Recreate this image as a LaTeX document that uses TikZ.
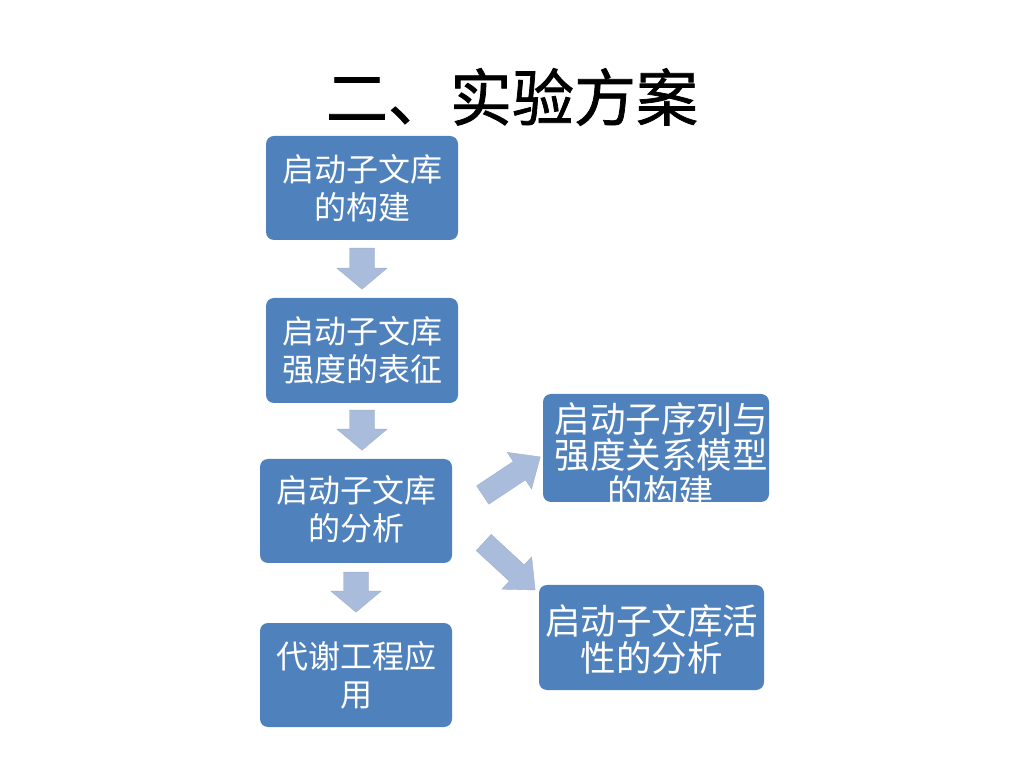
\documentclass[tikz,border=0pt]{standalone}
\usepackage{fontspec}
\setmainfont{Noto Sans CJK SC}
\newfontfamily\cjk{Noto Sans CJK SC}
\newfontfamily\titlecjk[FakeBold=1.2]{Noto Sans CJK SC}
\usetikzlibrary{calc}
\definecolor{boxblue}{HTML}{4F81BD}
\definecolor{arrblue}{HTML}{A9BCDB}
\tikzset{
  flowbox/.style={fill=boxblue, rounded corners=8pt, inner sep=0pt},
  boxtext/.style={text=white, align=center, inner sep=0pt, font=\cjk\fontsize{32pt}{38pt}\selectfont},
  widetext/.style={text=white, align=center, inner sep=0pt, font=\cjk\fontsize{35.5pt}{36.5pt}\selectfont},
  arrfill/.style={fill=arrblue, draw=arrblue!80!gray, line width=0.4pt},
}
% tail coordinate, angle, length, shaft half width, head half width, head length
\newcommand\blockarr[6]{%
  \path[arrfill, shift={(#1)}, rotate=#2]
    (0,-#4) -- ({#3-#6},-#4) -- ({#3-#6},-#5) -- (#3,0) -- ({#3-#6},#5) -- ({#3-#6},#4) -- (0,#4) -- cycle;}
\begin{document}
\begin{tikzpicture}[x=1pt,y=1pt]
\useasboundingbox (0,0) rectangle (1024,768);
\fill[white] (0,0) rectangle (1024,768);

\node[font=\titlecjk\fontsize{62pt}{62pt}\selectfont, inner sep=0pt] (title) at (512,671) {二、实验方案};

\node[flowbox, minimum width=192pt, minimum height=104pt] (b1) at (362,580) {};
\node[boxtext] (t1) at (b1.center) {启动子文库\\的构建};

\node[flowbox, minimum width=192pt, minimum height=105pt] (b2) at (362,417.5) {};
\node[boxtext] (t2) at (b2.center) {启动子文库\\强度的表征};

\node[flowbox, minimum width=192pt, minimum height=104pt] (b3) at (356,257) {};
\node[boxtext] (t3) at ([yshift=2pt]b3.center) {启动子文库\\的分析};

\node[flowbox, minimum width=192pt, minimum height=104pt] (b4) at (356,93) {};
\node[boxtext] (t4) at (b4.center) {代谢工程应\\用};

\node[flowbox, minimum width=226pt, minimum height=108pt] (b5) at (656,320) {};
\node[widetext] (t5) at ([xshift=5pt,yshift=-7pt]b5.center) {启动子序列与\\强度关系模型\\的构建};

\node[flowbox, minimum width=225pt, minimum height=105pt] (b6) at (651.5,130.5) {};
\node[widetext] (t6) at ([yshift=-2pt]b6.center) {启动子文库活\\性的分析};

% connectors (block arrows)
\coordinate (a1) at ($(b1.south)+(0,-8)$);
\coordinate (a2) at ($(b2.south)+(0,-7)$);
\coordinate (a3) at ($(b3.south)+(0,-9)$);
\coordinate (a4) at ($(b3.east)+(30.5,16)$);
\coordinate (a5) at ($(b3.east)+(31.5,-31.5)$);
\blockarr{a1}{-90}{41}{12.5}{25}{21}
\blockarr{a2}{-90}{40}{12.5}{25}{21}
\blockarr{a3}{-90}{40}{12.5}{25}{21}
\blockarr{a4}{33.5}{69}{11}{22}{25}
\blockarr{a5}{-42.7}{70}{11}{22}{25}
\end{tikzpicture}
\end{document}
